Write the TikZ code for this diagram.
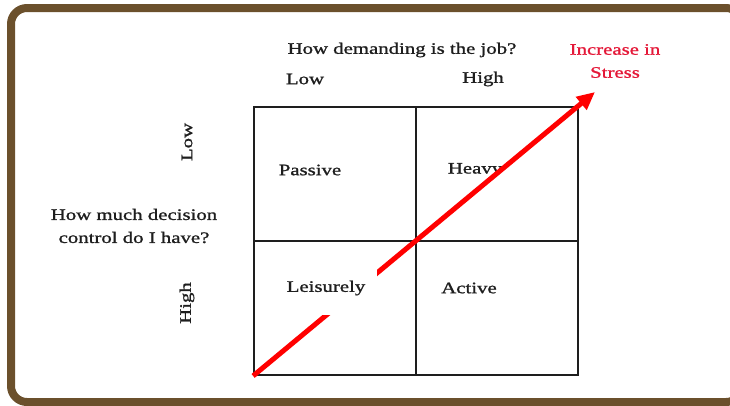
\documentclass[tikz,border=0pt]{standalone}
\usepackage{fontspec}
\setmainfont[FakeStretch=1.3, FakeBold=1.2]{Liberation Serif}
\usetikzlibrary{arrows.meta}
\definecolor{framebrown}{RGB}{107,80,44}
\definecolor{stressred}{RGB}{228,24,56}
\definecolor{ink}{RGB}{30,30,30}

\begin{document}
\begin{tikzpicture}[x=1pt,y=-1pt,
    cell/.style={draw=ink, line width=1.8pt, minimum width=162pt, minimum height=134pt, inner sep=0pt},
    lbl/.style={text=ink, font=\fontsize{16}{23}\selectfont, inner sep=0pt, align=center}]
  \useasboundingbox (0,0) rectangle (730,405);

  % ---- slide frame ---------------------------------
  \begin{scope}
    \clip (0,0) rectangle (730,405);
    \draw[framebrown, line width=8pt, rounded corners=16pt] (11,8) rectangle (742,402);
  \end{scope}

  % ---- the 2x2 grid --------------------------------
  \node[cell] (passivecell) at (335,174) {};
  \node[cell] (heavycell)   at (497,174) {};
  \node[cell] (leisurecell) at (335,308) {};
  \node[cell] (activecell)  at (497,308) {};

  % ---- axis texts ----------------------------------
  \node[lbl] (title)      at (402,50) {How demanding is the job?};
  \node[lbl] (lowdemand)  at (305,79) {Low};
  \node[lbl] (highdemand) at (483,79) {High};
  \node[lbl, text=stressred] (stress) at (615,61) {Increase in\\Stress};
  \node[lbl] (control)     at (134,226) {How much decision\\control do I have?};
  \node[lbl, rotate=90] (lowcontrol)  at (187,142) {Low};
  \node[lbl, rotate=90] (highcontrol) at (187,303) {High};

  % ---- cell names (Heavy sits under the arrow) -----
  \node[lbl] (passive) at (310,170) {Passive};
  \node[lbl] (heavy)   at (475,170) {Heavy};
  \node[lbl] (active)  at (469,288) {Active};

  % ---- stress arrow --------------------------------
  \coordinate (tip) at (595,92);
  \draw[red, line width=5pt, -{Triangle[length=18pt,width=16pt]}] (leisurecell.south west) -- (tip);

  % ---- label that blanks out the arrow -------------
  \node[lbl, fill=white, inner xsep=12pt, minimum height=54pt] (leisurely) at (326,288) {Leisurely};
\end{tikzpicture}
\end{document}
